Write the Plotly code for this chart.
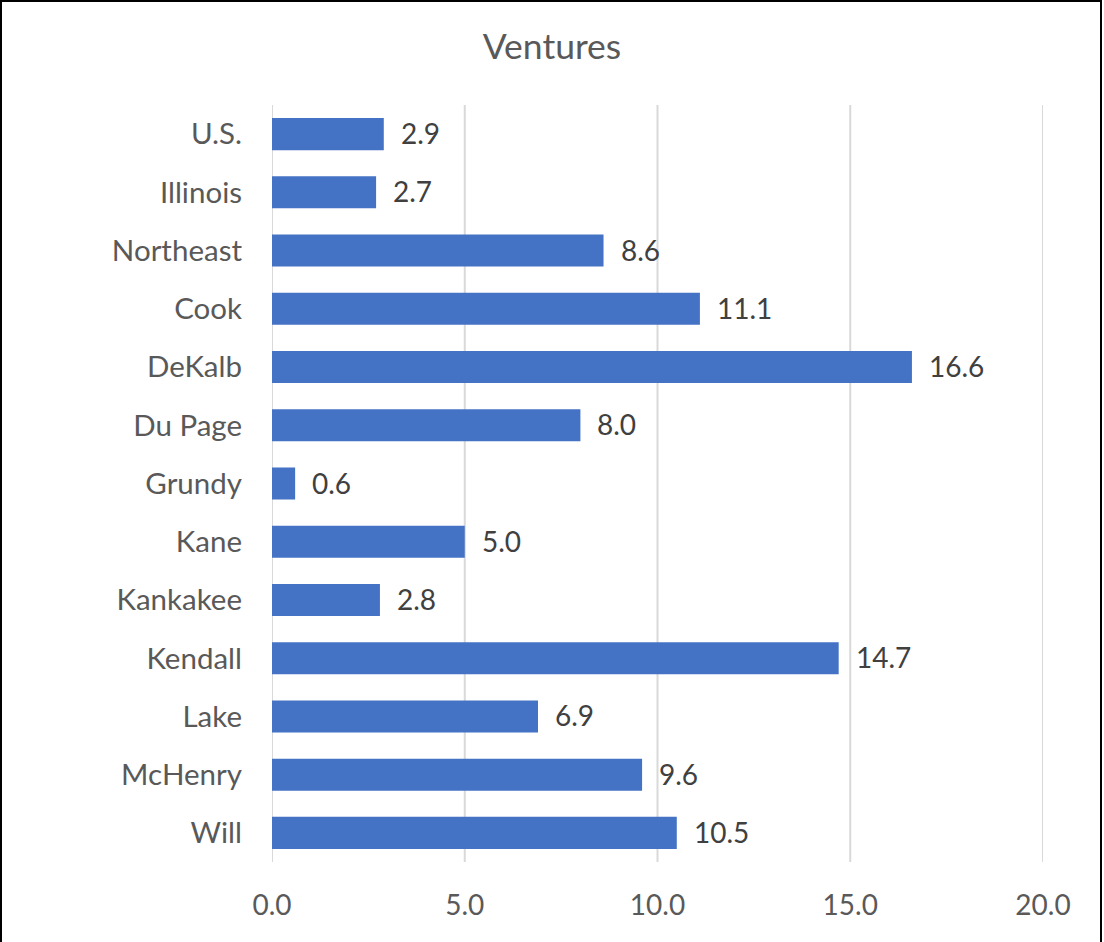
import plotly.graph_objects as go

categories = ["U.S.", "Illinois", "Northeast", "Cook", "DeKalb", "Du Page", "Grundy",
              "Kane", "Kankakee", "Kendall", "Lake", "McHenry", "Will"]
values = [2.9, 2.7, 8.6, 11.1, 16.6, 8.0, 0.6, 5.0, 2.8, 14.7, 6.9, 9.6, 10.5]
x_ticks = [0, 5, 10, 15, 20]
title_text = "Ventures"

W, H = 1104, 942
ml, mr, mt, mb = 272, 61, 105, 80
font_family = "Lato, 'Open Sans', sans-serif"

fig = go.Figure(go.Bar(
    x=values, y=categories, orientation="h",
    marker=dict(color="#4472C4", line=dict(width=0)),
    width=0.55,
    cliponaxis=False,
))

for v, c in zip(values, categories):
    fig.add_annotation(x=v, y=c, xref="x", yref="y", text=f"{v:.1f}", showarrow=False,
                       xanchor="left", yanchor="middle", xshift=15, yshift=1,
                       font=dict(size=28, color="#404040", family=font_family))

for t in x_ticks:
    fig.add_shape(type="line", xref="x", yref="paper", x0=t, x1=t, y0=0, y1=1,
                  line=dict(color="#D9D9D9", width=2), layer="below")

pw = W - ml - mr
ph = H - mt - mb
fig.add_shape(type="rect", xref="paper", yref="paper",
              x0=(1 - ml) / pw, x1=(W - 3 - ml) / pw,
              y0=-(mb + 20) / ph, y1=1 + (mt - 1) / ph,
              line=dict(color="black", width=2), fillcolor="rgba(0,0,0,0)", layer="above")

fig.update_layout(
    width=W, height=H,
    margin=dict(l=ml, r=mr, t=mt, b=mb),
    paper_bgcolor="white", plot_bgcolor="white",
    title=dict(text=title_text, x=0.5, xref="container", xanchor="center",
               y=1 - 47 / H, yref="container", yanchor="middle",
               font=dict(size=35.5, color="#595959", family=font_family)),
    font=dict(family=font_family, color="#595959", size=28),
    showlegend=False,
)
fig.update_xaxes(range=[0, 20], tickvals=x_ticks, ticktext=[f"{t:.1f}" for t in x_ticks],
                 showgrid=False, zeroline=False, automargin=False,
                 showline=False, ticks="", ticklabelstandoff=24,
                 tickfont=dict(size=28, color="#595959"))
fig.update_yaxes(autorange="reversed", showgrid=False, zeroline=False, showline=False,
                 automargin=False,
                 ticks="", ticklabelstandoff=29, tickfont=dict(size=29.5, color="#595959"))

fig.write_html("out.html", config={"displayModeBar": False},
               post_script="document.body.style.margin='0';document.body.style.overflow='hidden';")
